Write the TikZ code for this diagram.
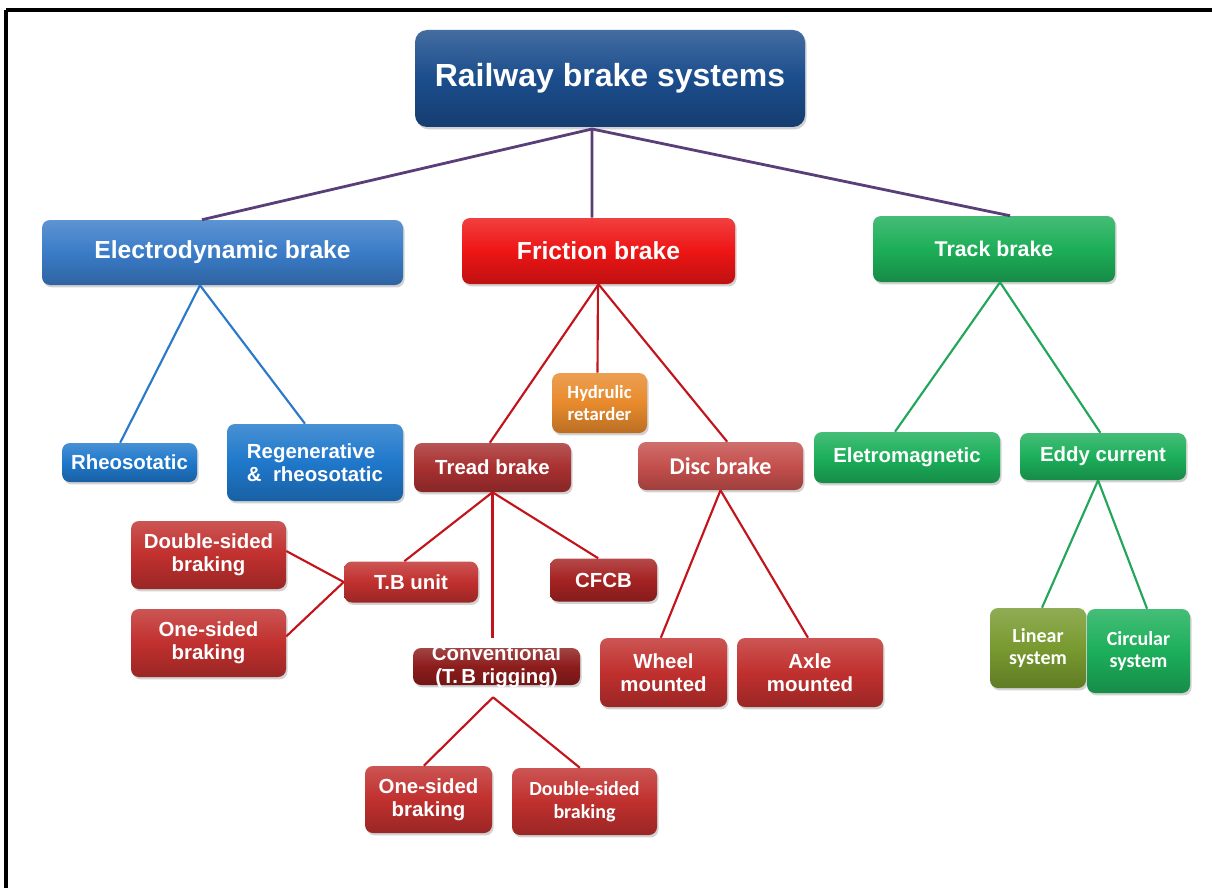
\documentclass[tikz,border=0pt]{standalone}
\usepackage{fontspec}
\setmainfont{Liberation Sans}
\newfontfamily\calfont{Carlito}
\usetikzlibrary{shadows}
\definecolor{cRoot}{HTML}{1B4D8C}
\definecolor{cElec}{HTML}{3A7CC8}
\definecolor{cFric}{HTML}{EE1515}
\definecolor{cTrack}{HTML}{1DAE58}
\definecolor{cBlue}{HTML}{1F78CB}
\definecolor{cOrange}{HTML}{E88A2C}
\definecolor{cTread}{HTML}{A83030}
\definecolor{cDisc}{HTML}{C44F4C}
\definecolor{cGreen}{HTML}{1CAF5A}
\definecolor{cRed}{HTML}{C0302E}
\definecolor{cCFCB}{HTML}{A52222}
\definecolor{cConv}{HTML}{8D1C1C}
\definecolor{cOlive}{HTML}{789A2F}
\definecolor{lPurple}{HTML}{5A3E78}
\definecolor{lBlue}{HTML}{2B79C9}
\definecolor{lRed}{HTML}{C3141C}
\definecolor{lGreen}{HTML}{22A65A}
\tikzset{
  box/.style={rounded corners=6pt, text=white, align=center, inner sep=0pt,
    drop shadow={opacity=0.35, shadow xshift=1.2pt, shadow yshift=-1.8pt}},
  gloss/.style={top color=#1!82!white, bottom color=#1!80!black, middle color=#1},
  txtbig/.style={font=\bfseries\fontsize{24}{28}\selectfont},
  txtmid/.style={font=\bfseries\fontsize{18.5}{22}\selectfont},
  txttrk/.style={font=\bfseries\fontsize{16}{19}\selectfont},
  txtsmall/.style={font=\bfseries\fontsize{15.3}{17}\selectfont},
  txtcal/.style={font=\calfont\bfseries\fontsize{15}{17}\selectfont},
  conn/.style={line width=1.6pt},
  rootconn/.style={line width=2.1pt, lPurple},
}
\begin{document}
\begin{tikzpicture}[x=0.75pt,y=-0.75pt]
\useasboundingbox (0,0) rectangle (1212,888);
\fill[white] (0,0) rectangle (1212,888);
\draw[line width=2.4pt] (6,10) -- (1212,10);
\draw[line width=2.4pt] (6,10) -- (6,888);

% level 0
\node[box, gloss=cRoot, rounded corners=9pt, txtbig, minimum width=292.5pt, minimum height=72.75pt] (root) at (610,78.5) {Railway brake systems};
% level 1
\node[box, gloss=cElec, txtmid, minimum width=270.75pt, minimum height=48.75pt] (elec) at (222.5,252.5) {Electrodynamic brake};
\node[box, gloss=cFric, txtmid, minimum width=204.75pt, minimum height=49.5pt] (fric) at (598.5,251) {Friction brake};
\node[box, gloss=cTrack, txttrk, minimum width=181.5pt, minimum height=49.5pt] (track) at (994,249) {Track brake};
% level 2
\node[box, gloss=cBlue, txtsmall, minimum width=101.25pt, minimum height=29.25pt] (rheo) at (129.5,462.5) {Rheosotatic};
\node[box, gloss=cBlue, txtsmall, align=left, minimum width=132pt, minimum height=57.75pt] (regen) at (315,462.5) {Regenerative\\\&~~rheosotatic};
\node[box, gloss=cOrange, font=\calfont\bfseries\fontsize{14}{16}\selectfont, minimum width=71.25pt, minimum height=45pt] (hydr) at (599.5,403) {Hydrulic\\retarder};
\node[box, gloss=cTread, txtsmall, minimum width=117.75pt, minimum height=36.75pt] (tread) at (492.5,467.5) {Tread brake};
\node[box, gloss=cDisc, font=\calfont\bfseries\fontsize{18}{21}\selectfont, minimum width=123.75pt, minimum height=36pt] (disc) at (720.5,466) {Disc brake};
\node[box, gloss=cGreen, txtsmall, minimum width=139.5pt, minimum height=38.25pt] (emag) at (907,457.5) {Eletromagnetic};
\node[box, gloss=cGreen, txtsmall, minimum width=124.5pt, minimum height=35.25pt] (eddy) at (1103,456.5) {Eddy current};
% level 3
\node[box, gloss=cRed, txtsmall, minimum width=116.25pt, minimum height=51pt] (ds1) at (208.5,555) {Double-sided\\braking};
\node[box, gloss=cRed, txtsmall, minimum width=116.25pt, minimum height=51pt] (os1) at (208.5,643) {One-sided\\braking};
\node[box, gloss=cRed, txtsmall, minimum width=100.5pt, minimum height=30.75pt] (tbu) at (411,582) {T.B unit};
\node[box, gloss=cCFCB, txtsmall, minimum width=80.25pt, minimum height=32.25pt] (cfcb) at (603.5,580) {CFCB};
\node[box, gloss=cConv, minimum width=125.25pt, minimum height=27.75pt,
  label={[txtsmall, text=white, align=center, inner sep=0pt]center:Conventional\\(T.\,B rigging)}] (conv) at (496.5,666.5) {};
\node[box, gloss=cRed, txtsmall, minimum width=95.25pt, minimum height=51.75pt] (wheel) at (663.5,672.5) {Wheel\\mounted};
\node[box, gloss=cRed, txtsmall, minimum width=109.5pt, minimum height=51.75pt] (axle) at (810,672.5) {Axle\\mounted};
\node[box, gloss=cOlive, txtcal, minimum width=72pt, minimum height=60pt] (lin) at (1038,648) {Linear\\system};
\node[box, gloss=cGreen, txtcal, minimum width=77.25pt, minimum height=63pt] (circ) at (1138.5,651) {Circular\\system};
% level 4
\node[box, gloss=cRed, txtsmall, minimum width=95.25pt, minimum height=50.25pt] (os2) at (428.5,799.5) {One-sided\\braking};
\node[box, gloss=cRed, txtcal, minimum width=108.75pt, minimum height=50.25pt] (ds2) at (584.5,801.5) {Double-sided\\braking};

% connectors
\coordinate (rj) at (592,129);
\draw[rootconn] (rj) -- ([xshift=-15.4pt]elec.north);
\draw[rootconn] (rj) -- ([xshift=-4.9pt]fric.north);
\draw[rootconn] (rj) -- ([xshift=12pt]track.north);

\draw[conn, lBlue] ([xshift=-16.9pt]elec.south) -- ([xshift=-7pt]rheo.north);
\draw[conn, lBlue] ([xshift=-16.9pt]elec.south) -- ([xshift=-7.5pt]regen.north);

\draw[conn, lRed] (fric.south) -- ([xshift=-2pt]tread.north);
\draw[conn, lRed] ([xshift=-0.4pt]fric.south) -- ([xshift=-1.5pt]hydr.north);
\draw[conn, lRed] (fric.south) -- ([xshift=5pt]disc.north);

\draw[conn, lGreen] ([xshift=4.5pt]track.south) -- ([xshift=-9pt]emag.north);
\draw[conn, lGreen] ([xshift=4.5pt]track.south) -- ([xshift=-2pt]eddy.north);

\draw[conn, lRed] (tread.south) -- ([xshift=-5pt]tbu.north);
\draw[conn, lRed] (tread.south) -- ([xshift=-4pt]cfcb.north);
\draw[conn, lRed, shorten >=7.5pt] (tread.south) -- (tread.south |- conv.north);

\draw[conn, lRed] (tbu.west) -- ([yshift=3pt]ds1.east);
\draw[conn, lRed] (tbu.west) -- ([yshift=5pt]os1.east);

\draw[conn, lRed] (disc.south) -- ([xshift=-2pt]wheel.north);
\draw[conn, lRed] (disc.south) -- ([xshift=-1.5pt]axle.north);

\draw[conn, lRed] ([yshift=-9pt,xshift=-2.6pt]conv.south) -- ([xshift=-3.5pt]os2.north);
\draw[conn, lRed] ([yshift=-9pt,xshift=-2.6pt]conv.south) -- ([xshift=-3.5pt]ds2.north);

\draw[conn, lGreen] ([xshift=-3.7pt]eddy.south) -- ([xshift=3pt]lin.north);
\draw[conn, lGreen] ([xshift=-3.7pt]eddy.south) -- ([xshift=6.4pt]circ.north);
\end{tikzpicture}
\end{document}
